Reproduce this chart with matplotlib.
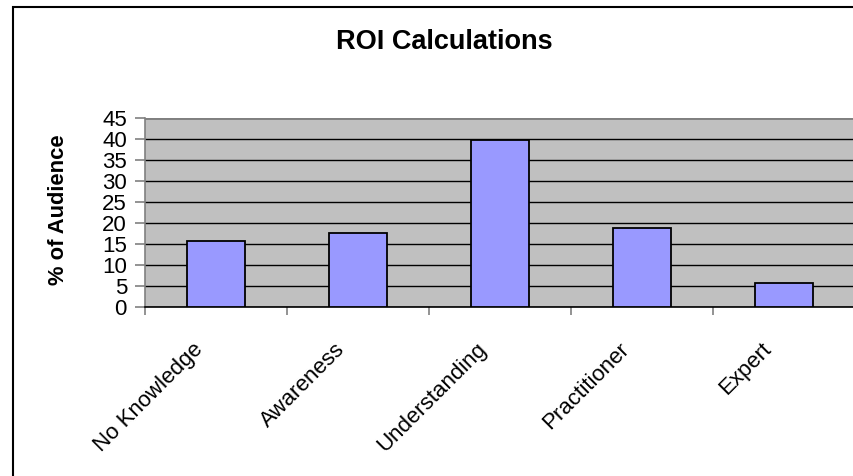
import matplotlib.pyplot as plt
from matplotlib.patches import Rectangle

categories = ["No Knowledge", "Awareness", "Understanding", "Practitioner", "Expert"]
audience = [15.8, 17.6, 39.7, 18.9, 5.8]
y_ticks = [0, 5, 10, 15, 20, 25, 30, 35, 40, 45]

plt.rcParams['font.family'] = ['Liberation Sans', 'DejaVu Sans']

fig = plt.figure(figsize=(8.54, 4.76), dpi=100)

# outer chart frame (cropped on the right and bottom)
fig.patches.append(Rectangle((13/854, -0.1), 1.2, 1 - 7/476 + 0.1,
                             transform=fig.transFigure, fill=False,
                             edgecolor='black', linewidth=1.5))

ax = fig.add_axes([145/854, 1 - 307/476, 710/854, 189/476])
ax.set_facecolor('#C0C0C0')

x = range(len(categories))
ax.bar(x, audience, width=0.41, color='#9999FF', edgecolor='black',
       linewidth=1.3, zorder=3)

ax.set_xlim(-0.5, len(categories) - 0.5)
ax.set_ylim(0, 45)
ax.set_yticks(y_ticks)
ax.set_yticklabels([str(v) for v in y_ticks], fontsize=16)
ax.yaxis.grid(True, color='black', linewidth=1.0, zorder=1)
ax.set_axisbelow(True)

# category ticks sit between the bars
ax.set_xticks([i - 0.5 for i in range(len(categories) + 1)])
ax.set_xticklabels([])
ax.tick_params(axis='x', length=6, color='#808080', width=1.2)
ax.tick_params(axis='y', length=7, color='#808080', width=1.2, pad=6)
for i, name in enumerate(categories):
    ax.annotate(name, xy=(i, 0), xycoords=('data', 'axes fraction'),
                xytext=(-17, -23), textcoords='offset points',
                rotation=45, ha='right', va='top', rotation_mode='anchor',
                fontsize=16)

for side in ['top', 'right']:
    ax.spines[side].set_visible(False)
ax.spines['left'].set_color('#808080')
ax.spines['left'].set_linewidth(1.2)
ax.spines['bottom'].set_color('black')
ax.spines['bottom'].set_linewidth(1.2)
ax.axhline(45, color='#808080', linewidth=2, zorder=2)

fig.text(444/854, 1 - 42/476, "ROI Calculations", ha='center', va='center',
         fontsize=19.5, fontweight='bold')
fig.text(59/854, 1 - 210/476, "% of Audience", ha='center', va='center',
         rotation=90, fontsize=15.8, fontweight='bold')

fig.savefig("out.png", dpi=100)
